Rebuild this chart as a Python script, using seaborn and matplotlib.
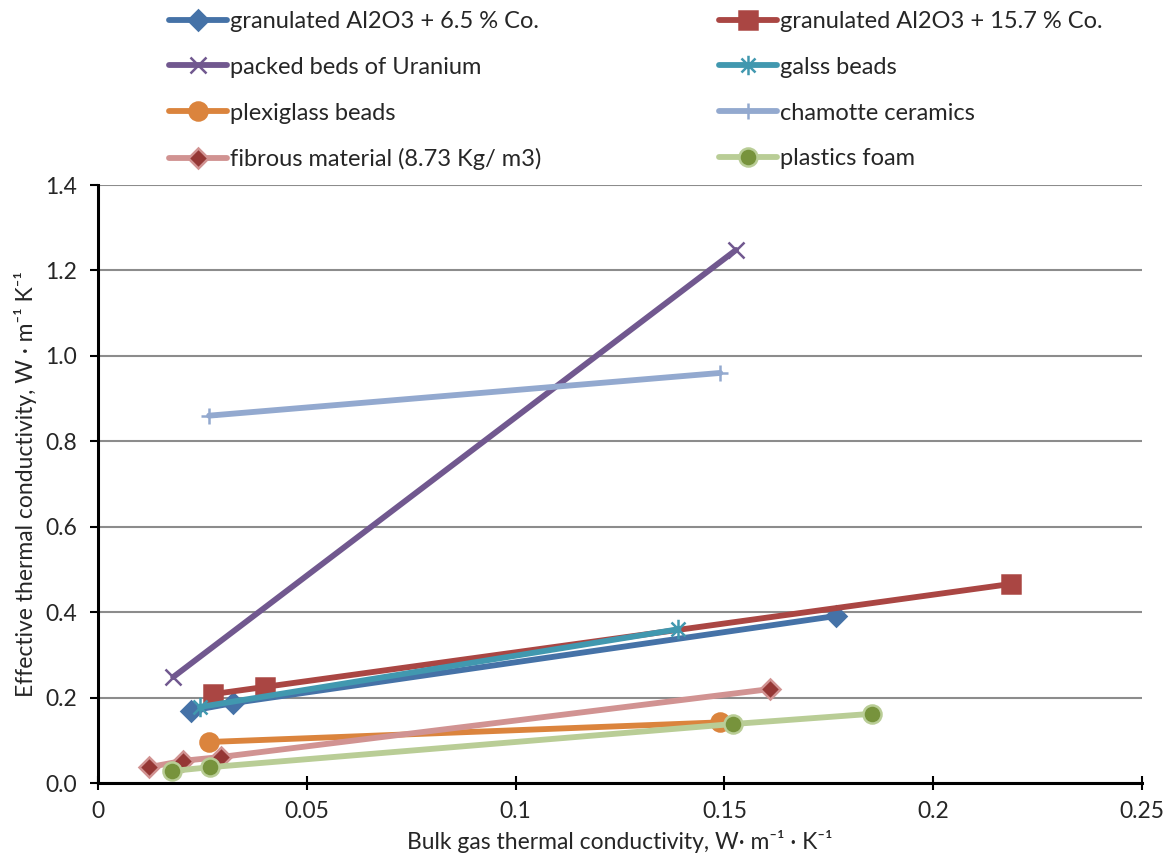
import matplotlib
matplotlib.use("Agg")
import matplotlib.pyplot as plt
from matplotlib.path import Path
import seaborn as sns
import numpy as np

# ---- data ----
al65_x = [0.0223, 0.0323, 0.1767]
al65_y = [0.169, 0.187, 0.391]
al157_x = [0.0275, 0.0400, 0.2186]
al157_y = [0.208, 0.225, 0.466]
uran_x = [0.0180, 0.1528]
uran_y = [0.248, 1.248]
glass_x = [0.0244, 0.1390]
glass_y = [0.178, 0.360]
plexi_x = [0.0266, 0.1490]
plexi_y = [0.096, 0.142]
chamotte_x = [0.0266, 0.1490]
chamotte_y = [0.860, 0.960]
fibrous_x = [0.0122, 0.0204, 0.0295, 0.1610]
fibrous_y = [0.037, 0.052, 0.061, 0.220]
foam_x = [0.0177, 0.0268, 0.1520, 0.1853]
foam_y = [0.028, 0.037, 0.138, 0.162]

labels = {
    "al65": "granulated Al2O3 + 6.5 % Co.",
    "al157": "granulated Al2O3 + 15.7 % Co.",
    "uran": "packed beds of Uranium",
    "glass": "galss beads",
    "plexi": "plexiglass beads",
    "chamotte": "chamotte ceramics",
    "fibrous": "fibrous material (8.73 Kg/ m3)",
    "foam": "plastics foam",
}
x_ticks = [0, 0.05, 0.1, 0.15, 0.2, 0.25]
x_tick_labels = ["0", "0.05", "0.1", "0.15", "0.2", "0.25"]
y_ticks = [0.0, 0.2, 0.4, 0.6, 0.8, 1.0, 1.2, 1.4]

sns.set_theme(style="white")
plt.rcParams["font.family"] = ["Lato", "DejaVu Sans"]

fig = plt.figure(figsize=(11.71, 8.68), dpi=100)
ax = fig.add_axes([98 / 1171, 1 - 783 / 868, (1142 - 98) / 1171, (783 - 185) / 868])

# Excel-style star marker: x plus vertical bar
d = 0.72
star = Path([(0, -1), (0, 1), (-d, -d), (d, d), (-d, d), (d, -d)],
            [Path.MOVETO, Path.LINETO, Path.MOVETO, Path.LINETO, Path.MOVETO, Path.LINETO])

lw = 4.2
styles = {
    "al65": dict(x=al65_x, y=al65_y, color="#4572A7", marker="D", ms=10, mfc="#4572A7", mec="#4572A7"),
    "al157": dict(x=al157_x, y=al157_y, color="#AA4643", marker="s", ms=13, mfc="#AA4643", mec="#AA4643"),
    "uran": dict(x=uran_x, y=uran_y, color="#71588F", marker="x", ms=12, mfc="#71588F", mec="#71588F"),
    "glass": dict(x=glass_x, y=glass_y, color="#4198AF", marker=star, ms=14, mfc="#4198AF", mec="#4198AF"),
    "plexi": dict(x=plexi_x, y=plexi_y, color="#DB843D", marker="o", ms=13, mfc="#DB843D", mec="#DB843D"),
    "chamotte": dict(x=chamotte_x, y=chamotte_y, color="#93A9CF", marker="+", ms=12, mfc="#93A9CF", mec="#93A9CF"),
    "fibrous": dict(x=fibrous_x, y=fibrous_y, color="#D19392", marker="D", ms=10, mfc="#953735", mec="#D19392"),
    "foam": dict(x=foam_x, y=foam_y, color="#B9CD96", marker="o", ms=13, mfc="#77933C", mec="#B9CD96"),
}
draw_order = ["al65", "al157", "uran", "glass", "plexi", "chamotte", "fibrous", "foam"]
handles = {}
for key in draw_order:
    s = styles[key]
    sns.lineplot(x=s["x"], y=s["y"], ax=ax, color=s["color"], linewidth=lw,
                 marker=s["marker"], markersize=s["ms"], markerfacecolor=s["mfc"],
                 markeredgecolor=s["mec"], markeredgewidth=1.8, sort=False,
                 estimator=None, label=labels[key])
    handles[key] = ax.lines[-1]

ax.set_xlim(0, 0.25)
ax.set_ylim(0, 1.4)
ax.set_xticks(x_ticks)
ax.set_xticklabels(x_tick_labels)
ax.set_yticks(y_ticks)
ax.set_yticklabels([f"{v:.1f}" for v in y_ticks])
ax.yaxis.grid(True, color="#8C8C8C", linewidth=1.5)
ax.set_axisbelow(True)
for side in ["top", "right"]:
    ax.spines[side].set_visible(False)
for side in ["left", "bottom"]:
    ax.spines[side].set_color("black")
    ax.spines[side].set_linewidth(2.2)
ax.tick_params(axis="both", which="major", length=6, width=1.5,
               color="black", labelsize=16.5, bottom=True, left=True)
ax.tick_params(axis="x", direction="inout", length=10, pad=8)
ax.tick_params(axis="y", direction="out", pad=9)

ax.set_xlabel("Bulk gas thermal conductivity, W\u00b7 m\u207b\u00b9 \u00b7 K\u207b\u00b9", fontsize=16.5, labelpad=6)
ax.set_ylabel("Effective thermal conductivity, W \u00b7 m\u207b\u00b9 K\u207b\u00b9", fontsize=16.5, labelpad=6)

if ax.get_legend():
    ax.get_legend().remove()
order = ["al65", "uran", "plexi", "fibrous", "al157", "glass", "chamotte", "foam"]
leg = fig.legend([handles[k] for k in order], [labels[k] for k in order],
                 loc="upper left", bbox_to_anchor=(160 / 1171, 1 - 1.5 / 868), ncol=2,
                 frameon=False, fontsize=17, handlelength=2.45, handletextpad=0.1,
                 columnspacing=7.55, labelspacing=1.05, borderaxespad=0.0)

fig.savefig("out.png", dpi=100)
